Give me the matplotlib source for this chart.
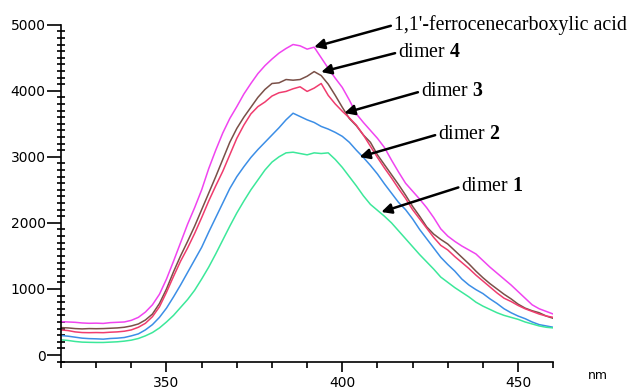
import numpy as np
import matplotlib
matplotlib.use("Agg")
import matplotlib.pyplot as plt
from matplotlib.ticker import MultipleLocator

plt.rcParams['mathtext.fontset'] = 'custom'
plt.rcParams['mathtext.rm'] = 'Liberation Serif'
plt.rcParams['mathtext.bf'] = 'Liberation Serif:bold'

# wavelength grid (nm)
wl = np.arange(320, 461, 2)

acid = [505, 500, 495, 485, 480, 482, 478, 490, 495, 500, 525, 570, 650, 760, 920, 1150, 1420, 1700,
        1980, 2230, 2500, 2820, 3100, 3360, 3580, 3760, 3950, 4110, 4260, 4380, 4480, 4570, 4640, 4700,
        4680, 4630, 4660, 4500, 4340, 4190, 4050, 3860, 3650, 3520, 3400, 3280, 3140, 2950, 2770, 2600,
        2480, 2360, 2230, 2080, 1910, 1800, 1720, 1650, 1590, 1530, 1430, 1330, 1240, 1150, 1060, 960,
        860, 760, 700, 660, 620]
dimer4 = [415, 410, 400, 395, 400, 398, 400, 405, 410, 420, 440, 470, 530, 620, 780, 1000, 1260, 1500,
          1720, 1950, 2200, 2450, 2700, 2960, 3220, 3430, 3600, 3750, 3900, 4020, 4110, 4120, 4170, 4160,
          4170, 4220, 4290, 4230, 4100, 3930, 3750, 3580, 3470, 3330, 3220, 3030, 2880, 2730, 2580, 2420,
          2250, 2100, 1940, 1830, 1750, 1680, 1580, 1480, 1380, 1270, 1170, 1080, 1000, 920, 850, 770,
          710, 670, 640, 590, 555]
dimer3 = [380, 370, 350, 340, 338, 340, 338, 345, 350, 360, 380, 420, 480, 580, 730, 950, 1190, 1420,
          1620, 1840, 2080, 2330, 2560, 2780, 3030, 3280, 3480, 3650, 3760, 3830, 3920, 3970, 3990, 4030,
          4060, 3990, 4040, 4110, 3930, 3800, 3690, 3590, 3480, 3330, 3160, 2990, 2830, 2680, 2520, 2370,
          2200, 2060, 1920, 1780, 1660, 1590, 1490, 1400, 1310, 1210, 1120, 1030, 940, 860, 810, 750,
          700, 660, 620, 590, 570]
dimer2 = [295, 285, 270, 255, 248, 245, 240, 250, 255, 265, 290, 320, 380, 460, 570, 710, 880, 1060,
          1250, 1440, 1630, 1860, 2080, 2300, 2520, 2700, 2850, 2990, 3110, 3220, 3330, 3440, 3560, 3660,
          3610, 3560, 3520, 3460, 3420, 3370, 3310, 3220, 3100, 2990, 2870, 2740, 2590, 2450, 2310, 2200,
          2060, 1900, 1760, 1620, 1480, 1370, 1270, 1150, 1060, 990, 930, 850, 780, 700, 640, 590,
          550, 500, 460, 440, 420]
dimer1 = [230, 220, 205, 195, 192, 190, 190, 195, 200, 210, 225, 250, 290, 340, 410, 500, 600, 720,
          840, 980, 1150, 1330, 1530, 1740, 1950, 2150, 2330, 2500, 2650, 2800, 2920, 3000, 3060, 3070,
          3050, 3030, 3060, 3050, 3060, 2960, 2840, 2700, 2560, 2410, 2280, 2190, 2100, 2000, 1880, 1760,
          1640, 1520, 1410, 1300, 1180, 1100, 1020, 950, 880, 800, 740, 690, 640, 600, 570, 540,
          500, 470, 440, 420, 410]

names = ["1,1'-ferrocenecarboxylic acid", r"dimer $\mathbf{4}$", r"dimer $\mathbf{3}$",
         r"dimer $\mathbf{2}$", r"dimer $\mathbf{1}$"]
colors = ['#f044f0', '#7a5048', '#f03c6e', '#3c8ee6', '#3ce89a']
series = [acid, dimer4, dimer3, dimer2, dimer1]

# arrow tips (on the curves) and label positions, in data units
tips = [(392, 4663), (394, 4284), (400.6, 3663), (404.9, 2997), (411.1, 2165)]
label_pos = [(414.6, 4995), (415.8, 4580), (422.3, 3990), (427.2, 3340), (433.8, 2550)]

fig = plt.figure(figsize=(6.33, 3.92), dpi=100)
ax = fig.add_axes([0.0964, 0.0765, 0.7776, 0.8605])

for y, c in zip(series, colors):
    ax.plot(wl, y, color=c, lw=1.1)

for name, tip, pos in zip(names, tips, label_pos):
    ax.annotate(name, xy=tip, xytext=pos, ha='left', va='center', fontsize=14.3,
                family='Liberation Serif', annotation_clip=False,
                arrowprops=dict(arrowstyle='-|>', color='k', lw=1.8, mutation_scale=15,
                                shrinkA=0, shrinkB=0, relpos=(0, 0.5)))

ax.set_xlim(320, 460)
ax.set_ylim(-106, 5000)
ax.xaxis.set_major_locator(MultipleLocator(50))
ax.xaxis.set_minor_locator(MultipleLocator(10))
ax.yaxis.set_major_locator(MultipleLocator(1000))
ax.yaxis.set_minor_locator(MultipleLocator(100))
ax.spines['top'].set_visible(False)
ax.spines['right'].set_visible(False)
for s in ['left', 'bottom']:
    ax.spines[s].set_linewidth(1.2)
ax.tick_params(axis='x', which='major', direction='out', length=7, width=1.2, pad=3, labelsize=10)
ax.tick_params(axis='x', which='minor', direction='out', length=4, width=1.2)
ax.tick_params(axis='y', which='major', direction='out', length=10, width=1.2, pad=1, labelsize=10)
ax.tick_params(axis='y', which='minor', direction='inout', length=6, width=1.2)
ax.set_yticks([0, 1000, 2000, 3000, 4000, 5000])
ax.text(1.07, -0.04, "nm", transform=ax.transAxes, fontsize=9, ha='left', va='center')

fig.savefig("out.png", dpi=100)
